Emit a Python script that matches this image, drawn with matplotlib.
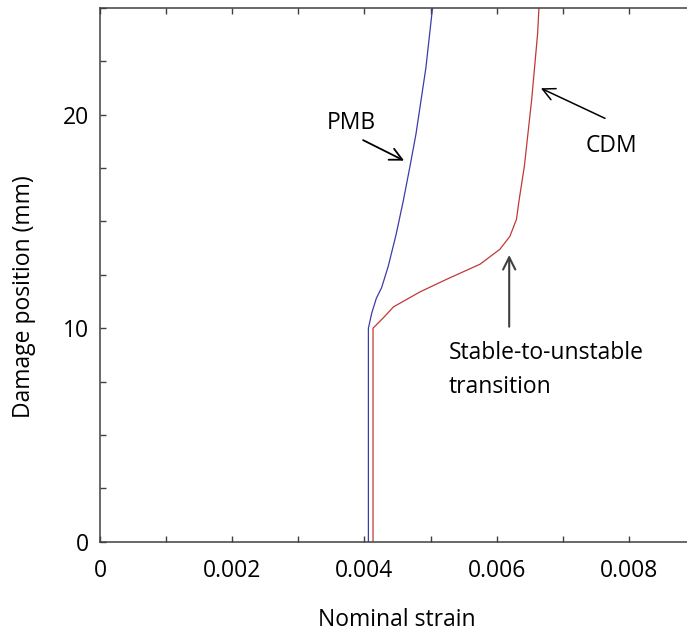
import matplotlib
matplotlib.use("Agg")
from matplotlib import pyplot as plt
from matplotlib.ticker import FixedLocator, FixedFormatter

# Damage position vs nominal strain
pmb_strain = [0.00406, 0.00406, 0.00411, 0.00418, 0.00426, 0.00436, 0.00448,
              0.00459, 0.00469, 0.00478, 0.00493, 0.00503]
pmb_position = [0, 10.0, 10.7, 11.4, 11.9, 12.9, 14.4, 16.0, 17.6, 19.1, 22.2, 25]

cdm_strain = [0.00413, 0.00413, 0.00429, 0.00444, 0.00484, 0.00525, 0.00575,
              0.00605, 0.00620, 0.00630, 0.00634, 0.00642, 0.00653, 0.00662, 0.00664]
cdm_position = [0, 10.0, 10.5, 11.0, 11.7, 12.3, 13.0, 13.7, 14.3, 15.1, 16.0,
                17.6, 20.7, 23.8, 25]

x_ticks = [0, 0.001, 0.002, 0.003, 0.004, 0.005, 0.006, 0.007, 0.008]
x_tick_labels = ['0', '', '0.002', '', '0.004', '', '0.006', '', '0.008']
y_ticks = [0, 2.5, 5, 7.5, 10, 12.5, 15, 17.5, 20, 22.5, 25]
y_tick_labels = ['0', '', '', '', '10', '', '', '', '20', '', '']

plt.rcParams['font.family'] = ['Open Sans', 'DejaVu Sans']
plt.rcParams['font.size'] = 16.5

fig = plt.figure(figsize=(6.87, 6.39), dpi=100)
ax = fig.add_axes([0.1456, 0.1523, 0.8544, 0.8352])

ax.plot(pmb_strain, pmb_position, color='#3c3ca8', lw=0.9)
ax.plot(cdm_strain, cdm_position, color='#c03838', lw=0.9)

ax.set_xlim(0, 0.00888)
ax.set_ylim(0, 25)

ax.xaxis.set_major_locator(FixedLocator(x_ticks))
ax.xaxis.set_major_formatter(FixedFormatter(x_tick_labels))
ax.yaxis.set_major_locator(FixedLocator(y_ticks))
ax.yaxis.set_major_formatter(FixedFormatter(y_tick_labels))

ax.tick_params(direction='in', length=4.5, width=1, color='#404040',
               top=True, right=False, labelsize=16.5)
ax.tick_params(axis='x', pad=12.5)
ax.tick_params(axis='y', pad=8)
for side in ['left', 'bottom', 'top']:
    ax.spines[side].set_color('#404040')
    ax.spines[side].set_linewidth(1.1)
ax.spines['right'].set_visible(False)

ax.set_xlabel("Nominal strain", fontsize=16.5)
ax.xaxis.set_label_coords(0.505, -0.125)
ax.set_ylabel("Damage position (mm)", fontsize=16.5, va='center')
ax.yaxis.set_label_coords(-0.129, 0.459)

# Annotations
ax.text(0.00380, 19.32, "PMB", ha='center', va='baseline')
ax.annotate("", xy=(0.00460, 17.85), xytext=(0.00398, 18.81),
            arrowprops=dict(arrowstyle='->', color='black', lw=1.3,
                            mutation_scale=22, shrinkA=0, shrinkB=0))

ax.text(0.00773, 18.27, "CDM", ha='center', va='baseline')
ax.annotate("", xy=(0.00667, 21.24), xytext=(0.00764, 19.83),
            arrowprops=dict(arrowstyle='->', color='black', lw=1.1,
                            mutation_scale=22, shrinkA=0, shrinkB=0))

ax.text(0.00528, 6.96, "Stable-to-unstable\ntransition", ha='left', va='baseline',
        linespacing=1.57)
ax.annotate("", xy=(0.00619, 13.43), xytext=(0.00619, 10.07),
            arrowprops=dict(arrowstyle='->', color='#404040', lw=1.5,
                            mutation_scale=22, shrinkA=0, shrinkB=0))

plt.savefig("out.png", dpi=100)
